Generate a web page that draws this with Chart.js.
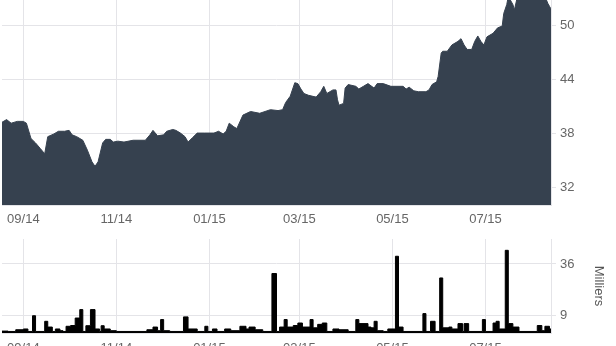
<!DOCTYPE html>
<html>
<head>
<meta charset="utf-8">
<script src="https://cdn.jsdelivr.net/npm/chart.js@4"></script>
<style>
  html, body { margin: 0; padding: 0; background: #fff; overflow: hidden; width: 616px; height: 346px; }
  #wrap { position: relative; width: 616px; height: 346px; overflow: hidden; }
  #price { position: absolute; left: 0; top: 0; }
  #vol { position: absolute; left: 0; top: 230px; }
</style>
</head>
<body>
<div id="wrap">
  <canvas id="price" width="616" height="226"></canvas>
  <canvas id="vol" width="616" height="130"></canvas>
</div>
<script>
// ---- data ----
const tickDates = ['2014-09-01', '2014-11-01', '2015-01-01', '2015-03-01', '2015-05-01', '2015-07-01'];
const tickLabels = ['09/14', '11/14', '01/15', '03/15', '05/15', '07/15'];
const rangeStart = '2014-08-18';
const rangeEnd = '2015-08-13';

const priceDates = [
  '2014-08-18','2014-08-21','2014-08-24','2014-08-28','2014-09-01','2014-09-03','2014-09-06','2014-09-09',
  '2014-09-12','2014-09-15','2014-09-17','2014-09-21','2014-09-24','2014-09-28','2014-10-01','2014-10-03',
  '2014-10-06','2014-10-10','2014-10-13','2014-10-16','2014-10-18','2014-10-20','2014-10-23','2014-10-25',
  '2014-10-28','2014-10-30','2014-11-02','2014-11-06','2014-11-12','2014-11-20','2014-11-23','2014-11-25',
  '2014-11-28','2014-12-02','2014-12-04','2014-12-08','2014-12-10','2014-12-13','2014-12-16','2014-12-18',
  '2014-12-21','2014-12-24','2014-12-29','2015-01-04','2015-01-07','2015-01-10','2015-01-12','2015-01-14',
  '2015-01-17','2015-01-19','2015-01-23','2015-01-28','2015-02-03','2015-02-10','2015-02-15','2015-02-18',
  '2015-02-20','2015-02-23','2015-02-26','2015-02-28','2015-03-02','2015-03-04','2015-03-07','2015-03-12',
  '2015-03-15','2015-03-17','2015-03-19','2015-03-23','2015-03-25','2015-03-26','2015-03-27','2015-03-30',
  '2015-03-31','2015-04-02','2015-04-07','2015-04-09','2015-04-12','2015-04-15','2015-04-19','2015-04-21',
  '2015-04-25','2015-04-30','2015-05-04','2015-05-08','2015-05-10','2015-05-12','2015-05-15','2015-05-18',
  '2015-05-23','2015-05-25','2015-05-27','2015-05-30','2015-05-31','2015-06-02','2015-06-03','2015-06-06',
  '2015-06-09','2015-06-13','2015-06-15','2015-06-17','2015-06-19','2015-06-22','2015-06-24','2015-06-26',
  '2015-06-28','2015-06-30','2015-07-02','2015-07-06','2015-07-09','2015-07-12','2015-07-13','2015-07-15',
  '2015-07-16','2015-07-19','2015-07-20','2015-07-22','2015-07-25','2015-07-31','2015-08-05','2015-08-09',
  '2015-08-11','2015-08-12','2015-08-13'
];
const prices = [
  39.2,39.5,39.1,39.3,39.3,39.1,37.4,36.9,
  36.3,35.7,37.6,37.9,38.2,38.2,38.3,37.8,
  37.6,37.2,36.1,34.8,34.3,34.8,36.9,37.3,
  37.3,37.0,37.1,37.0,37.2,37.2,37.8,38.3,
  37.7,37.8,38.2,38.4,38.3,38.0,37.6,37.0,
  37.5,38.0,38.0,38.0,38.2,37.9,38.2,39.1,
  38.7,38.5,40.0,40.4,40.2,40.6,40.5,40.6,
  41.4,42.1,43.6,43.5,42.9,42.4,42.2,42.0,
  42.6,43.2,42.4,42.8,42.8,41.7,41.1,41.3,
  43.0,43.4,43.2,42.9,43.2,43.5,43.0,43.5,
  43.5,43.2,43.2,43.2,42.9,43.1,42.7,42.6,
  42.6,42.8,43.4,43.7,44.3,46.9,47.1,47.1,
  47.8,48.2,48.5,47.8,47.3,47.3,48.2,48.8,
  48.2,47.8,48.7,49.1,49.7,49.9,51.3,52.3,
  53.2,52.3,51.7,53.2,53.4,53.3,53.5,53.2,
  52.4,52.1,51.8
];
const priceTicks = [32, 38, 44, 50];

const volumeDates = [
  '2014-08-18','2014-08-22','2014-08-27','2014-09-01','2014-09-04','2014-09-07','2014-09-09','2014-09-15',
  '2014-09-17','2014-09-20','2014-09-22','2014-09-25','2014-09-27','2014-09-29','2014-10-02','2014-10-05',
  '2014-10-08','2014-10-10','2014-10-12','2014-10-15','2014-10-18','2014-10-21','2014-10-22','2014-10-24',
  '2014-10-28','2014-11-01','2014-11-21','2014-11-25','2014-11-28','2014-11-30','2014-12-02','2014-12-06',
  '2014-12-15','2014-12-18','2014-12-24','2014-12-29','2014-12-31','2015-01-03','2015-01-06','2015-01-11',
  '2015-01-15','2015-01-21','2015-01-25','2015-01-27','2015-01-31','2015-02-05','2015-02-11','2015-02-14',
  '2015-02-16','2015-02-19','2015-02-21','2015-02-25','2015-02-28','2015-03-03','2015-03-08','2015-03-10',
  '2015-03-13','2015-03-16','2015-03-19','2015-03-23','2015-03-27','2015-04-02','2015-04-07','2015-04-09',
  '2015-04-15','2015-04-17','2015-04-19','2015-04-21','2015-04-25','2015-04-28','2015-05-03','2015-05-05',
  '2015-05-08','2015-05-21','2015-05-23','2015-05-26','2015-05-29','2015-06-01','2015-06-03','2015-06-07',
  '2015-06-09','2015-06-13','2015-06-16','2015-06-17','2015-06-20','2015-06-29','2015-07-01','2015-07-06',
  '2015-07-08','2015-07-10','2015-07-14','2015-07-16','2015-07-19','2015-07-23','2015-08-04','2015-08-07',
  '2015-08-09','2015-08-12','2015-08-13'
];
const volumes = [
  1.0,0.8,1.7,2.1,0.8,9.0,0.8,6.1,
  3.1,0.8,2.1,1.2,0.8,3.5,3.9,7.8,
  12.2,0.8,3.8,12.2,2.1,0.8,3.8,2.1,
  1.2,0.8,1.7,3.1,1.2,7.0,1.2,0.8,
  8.4,2.1,0.8,3.5,0.8,2.1,0.8,2.1,
  1.2,3.5,2.1,3.1,1.7,0.8,31.0,0.8,
  3.1,7.0,3.1,3.9,5.2,3.1,7.0,2.7,
  4.5,5.2,0.8,2.1,1.7,0.8,7.0,4.9,
  3.1,2.7,6.1,1.2,0.8,2.1,40.0,3.1,
  0.8,10.1,0.8,6.1,0.8,28.7,2.7,3.1,
  2.1,4.9,0.8,4.9,0.8,7.0,0.8,5.2,
  6.1,2.1,43.1,4.9,3.1,0.8,3.9,1.2,
  3.5,2.1,2.1
];
const volumeTicks = [9, 36];
const volumeTitle = 'Milliers';

// ---- helpers ----
const day = s => Date.UTC(+s.slice(0, 4), +s.slice(5, 7) - 1, +s.slice(8, 10)) / 86400000;
const gridColor = '#e4e4e8';
const textColor = '#666';
Chart.defaults.font.family = '"Liberation Sans", Arial, sans-serif';
Chart.defaults.font.size = 13;
Chart.defaults.color = textColor;

function xScale(height, pad) {
  return {
    type: 'linear',
    min: day(rangeStart),
    max: day(rangeEnd),
    afterBuildTicks: s => { s.ticks = tickDates.map(d => ({ value: day(d) })); },
    afterFit: s => { s.height = height; s.paddingLeft = 0; s.paddingRight = 0; },
    grid: { color: gridColor, lineWidth: 1, drawTicks: false },
    border: { color: gridColor },
    ticks: { padding: pad, maxRotation: 0, autoSkip: false, color: textColor,
             callback: (v, i) => tickLabels[i] }
  };
}
function yScale(min, max, ticks, title) {
  return {
    position: 'right',
    min: min, max: max,
    afterBuildTicks: s => { s.ticks = ticks.map(v => ({ value: v })); },
    afterFit: s => { s.width = 65; s.paddingTop = 0; s.paddingBottom = 0; },
    grid: { color: gridColor, lineWidth: 1, drawTicks: true, tickLength: 5 },
    border: { color: gridColor },
    ticks: { padding: 4, color: textColor, callback: v => String(v) },
    title: title ? { display: true, text: title, color: '#555', font: { size: 13 }, padding: { top: 10, bottom: 0 } } : { display: false }
  };
}

new Chart(document.getElementById('price'), {
  type: 'line',
  data: {
    datasets: [{
      data: priceDates.map((d, i) => ({ x: day(d), y: prices[i] })),
      borderColor: '#36414f',
      backgroundColor: '#36414f',
      borderWidth: 1,
      pointRadius: 0,
      tension: 0,
      fill: 'start'
    }]
  },
  options: {
    responsive: false,
    animation: false,
    devicePixelRatio: 1,
    layout: { padding: { left: 2, top: 0, right: 0, bottom: 0 } },
    plugins: { legend: { display: false }, tooltip: { enabled: false } },
    scales: {
      x: xScale(21, 7),
      y: yScale(30, 52.8, priceTicks, null)
    }
  }
});

// each volume value holds from its date until the next date
new Chart(document.getElementById('vol'), {
  type: 'line',
  data: {
    datasets: [{
      data: volumeDates.map((d, i) => ({ x: day(d), y: volumes[i] })),
      borderColor: '#000',
      backgroundColor: '#000',
      borderWidth: 1,
      pointRadius: 0,
      stepped: 'before',
      fill: 'start'
    }]
  },
  options: {
    responsive: false,
    animation: false,
    devicePixelRatio: 1,
    layout: { padding: { left: 2, top: 9, right: 0, bottom: 0 } },
    plugins: { legend: { display: false }, tooltip: { enabled: false } },
    scales: {
      x: xScale(27, 8),
      y: yScale(0, 49, volumeTicks, volumeTitle)
    }
  }
});
</script>
</body>
</html>
